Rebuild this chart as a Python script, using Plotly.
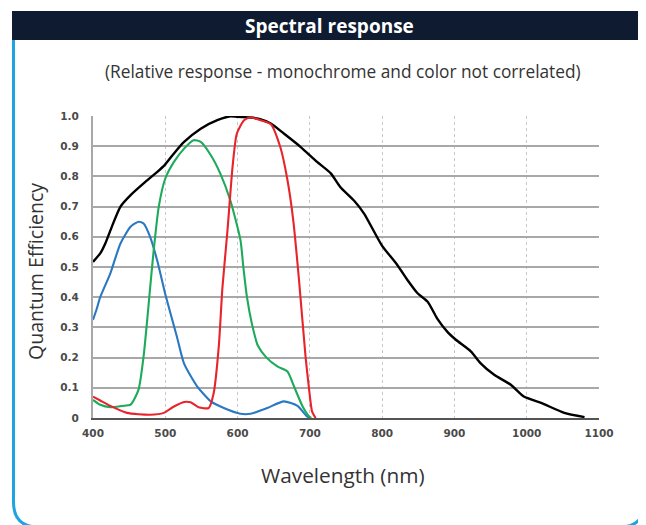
import plotly.graph_objects as go

# ---- data ----
black_x = [400, 410, 417, 426, 438, 452, 470, 489, 500, 512, 526, 549, 572, 590, 600, 618, 630, 646, 664, 687, 710, 729, 742, 761, 775, 800, 820, 835, 849, 863, 876, 890, 902, 923, 936, 955, 978, 996, 1020, 1052, 1080]
black_y = [0.517, 0.545, 0.578, 0.633, 0.70, 0.738, 0.777, 0.815, 0.84, 0.876, 0.914, 0.958, 0.986, 0.999, 0.997, 0.995, 0.99, 0.975, 0.942, 0.898, 0.848, 0.81, 0.765, 0.72, 0.677, 0.57, 0.51, 0.457, 0.413, 0.385, 0.33, 0.286, 0.259, 0.22, 0.182, 0.143, 0.11, 0.071, 0.05, 0.017, 0.003]

blue_x = [400, 405, 410, 424, 438, 452, 463, 470, 479, 489, 500, 516, 526, 544, 563, 581, 604, 618, 641, 664, 683, 696, 701]
blue_y = [0.325, 0.36, 0.40, 0.479, 0.578, 0.633, 0.65, 0.644, 0.60, 0.52, 0.41, 0.27, 0.18, 0.105, 0.055, 0.033, 0.014, 0.014, 0.033, 0.055, 0.04, 0.005, 0.0]

green_x = [400, 410, 424, 440, 452, 463, 470, 475, 479, 484, 491, 500, 512, 526, 539, 549, 563, 576, 590, 604, 608, 613, 620, 628, 640, 655, 669, 678, 690, 699, 702]
green_y = [0.06, 0.044, 0.036, 0.04, 0.044, 0.094, 0.204, 0.325, 0.43, 0.556, 0.70, 0.793, 0.848, 0.892, 0.92, 0.914, 0.87, 0.81, 0.72, 0.589, 0.50, 0.40, 0.31, 0.24, 0.20, 0.171, 0.154, 0.105, 0.038, 0.005, 0.0]

red_x = [400, 410, 424, 447, 479, 498, 512, 526, 535, 546, 560, 567, 574, 579, 586, 593, 599, 609, 618, 632, 646, 659, 669, 677, 685, 694, 699, 703, 708]
red_y = [0.071, 0.058, 0.04, 0.017, 0.011, 0.017, 0.038, 0.053, 0.052, 0.036, 0.033, 0.083, 0.237, 0.43, 0.62, 0.83, 0.942, 0.986, 0.995, 0.986, 0.973, 0.898, 0.788, 0.655, 0.457, 0.204, 0.094, 0.022, 0.0]

x_ticks = [400, 500, 600, 700, 800, 900, 1000, 1100]
y_ticks = [0, 0.1, 0.2, 0.3, 0.4, 0.5, 0.6, 0.7, 0.8, 0.9, 1.0]
y_tick_text = ["0", "0.1", "0.2", "0.3", "0.4", "0.5", "0.6", "0.7", "0.8", "0.9", "1.0"]

title = "Spectral response"
subtitle = "(Relative response - monochrome and color not correlated)"
x_title = "Wavelength (nm)"
y_title = "Quantum Efficiency"

# ---- layout geometry (page has an 8px body offset) ----
OFF = 8
W, H = 646 - OFF, 525 - OFF
L, T = 93 - OFF, 116 - OFF
PW, PH = 506, 302
R, B = W - L - PW, H - T - PH


def px(x):
    return (x - OFF - L) / PW


def py(y):
    return 1 - (y - OFF - T) / PH


fig = go.Figure()
series = [
    (black_x, black_y, "#000000", 2.4),
    (blue_x, blue_y, "#2a78c2", 2.1),
    (green_x, green_y, "#1daa5a", 2.1),
    (red_x, red_y, "#e8242b", 2.1),
]
for xs, ys, c, w in series:
    fig.add_trace(go.Scatter(x=xs, y=ys, mode="lines",
                             line=dict(color=c, width=w, shape="spline", smoothing=0.6),
                             hoverinfo="skip", showlegend=False))

fig.update_xaxes(range=[400, 1100], tickvals=x_ticks, ticktext=[str(v) for v in x_ticks],
                 showgrid=True, gridcolor="#c8c8c8", gridwidth=1, griddash="dot",
                 showline=True, linecolor="#555555", linewidth=2,
                 zeroline=False, ticks="", ticklabelstandoff=4,
                 tickfont=dict(family="DejaVu Sans", size=10.5, color="#4a4a4a", weight="bold"))
fig.update_yaxes(range=[0, 1.0], tickvals=y_ticks, ticktext=y_tick_text,
                 showgrid=True, gridcolor="#a8a8a8", gridwidth=2,
                 showline=True, linecolor="#a8a8a8", linewidth=2,
                 zeroline=False, ticks="", ticklabelstandoff=10,
                 tickfont=dict(family="DejaVu Sans", size=10.5, color="#4a4a4a", weight="bold"))

r = 25
x0, x1, y0, y1 = 13.5, 644.5, 40, 527
path = (f"M {px(x0)} {py(y0)} L {px(x0)} {py(y1 - r)} "
        f"Q {px(x0)} {py(y1)} {px(x0 + r)} {py(y1)} "
        f"L {px(x1 - r)} {py(y1)} Q {px(x1)} {py(y1)} {px(x1)} {py(y1 - r)} "
        f"L {px(x1)} {py(y0)}")

shapes = [
    dict(type="path", path=path, xref="paper", yref="paper",
         line=dict(color="#1fa4e2", width=3), layer="below"),
    dict(type="rect", xref="paper", yref="paper", x0=px(12), x1=px(646), y0=py(40), y1=py(11),
         fillcolor="#0e1b30", line=dict(width=0), layer="above"),
]

annotations = [
    dict(text=f"<b>{title}</b>", x=px(329), y=py(25.5), xref="paper", yref="paper",
         showarrow=False, xanchor="center", yanchor="middle",
         font=dict(family="Open Sans", size=19, color="#ffffff")),
    dict(text=subtitle, x=px(343), y=py(71), xref="paper", yref="paper",
         showarrow=False, xanchor="center", yanchor="middle",
         font=dict(family="Open Sans", size=17.3, color="#333333")),
    dict(text=x_title, x=px(343), y=py(475), xref="paper", yref="paper",
         showarrow=False, xanchor="center", yanchor="middle",
         font=dict(family="Open Sans", size=20.8, color="#333333")),
    dict(text=y_title, x=px(35), y=py(272), xref="paper", yref="paper",
         showarrow=False, xanchor="center", yanchor="middle", textangle=-90,
         font=dict(family="Open Sans", size=19.5, color="#333333")),
]

fig.update_layout(width=W, height=H, margin=dict(l=L, r=R, t=T, b=B),
                  paper_bgcolor="#ffffff", plot_bgcolor="#ffffff",
                  shapes=shapes, annotations=annotations, showlegend=False)

fig.write_html("out.html")
